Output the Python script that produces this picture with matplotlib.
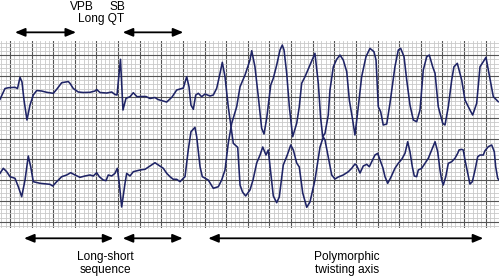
import matplotlib
matplotlib.use("Agg")
import matplotlib.pyplot as plt
from matplotlib.ticker import MultipleLocator

plt.rcParams['font.family'] = ['Liberation Sans', 'DejaVu Sans']

# ECG strip, time in seconds, amplitude in mV (both leads on one strip)
# trace starting in the upper lead (twists down to lower lead at ~2.05 s)
t1 = [-0.0925, -0.0463, -0.0157, 0.0463, 0.0694, 0.0925, 0.111, 0.1295, 0.157, 0.185,
      0.2155, 0.247, 0.293, 0.3395, 0.4006, 0.432, 0.478, 0.539, 0.555, 0.5856,
      0.632, 0.678, 0.740, 0.7863, 0.802, 0.8326, 0.8945, 0.941, 0.971, 0.990,
      1.022, 1.045, 1.073, 1.110, 1.1406, 1.175, 1.221, 1.258, 1.295, 1.341,
      1.369, 1.418, 1.4496, 1.499, 1.542, 1.588, 1.603, 1.6346, 1.656, 1.674,
      1.696, 1.718, 1.742, 1.7734, 1.804, 1.850, 1.8807, 1.912, 1.943, 1.964,
      1.989, 2.019, 2.044, 2.0657, 2.1064, 2.128, 2.151, 2.180, 2.220, 2.248,
      2.282, 2.313, 2.338, 2.368, 2.389, 2.412, 2.4357, 2.467, 2.491, 2.528,
      2.565, 2.597, 2.621, 2.652, 2.676, 2.708, 2.745, 2.775, 2.821, 2.868,
      2.898, 2.914, 2.944, 2.976, 3.006, 3.037, 3.083, 3.1295, 3.161, 3.191,
      3.207, 3.238, 3.268, 3.2997, 3.324, 3.376, 3.401, 3.423, 3.450, 3.469,
      3.494, 3.525, 3.561, 3.592, 3.6235, 3.654, 3.679, 3.700, 3.7216, 3.740,
      3.762, 3.777, 3.8085, 3.839, 3.8696, 3.901, 3.932, 3.9565, 3.978, 3.9935,
      4.008, 4.031, 4.0546, 4.086, 4.116, 4.1415, 4.154, 4.1785, 4.193, 4.209,
      4.234, 4.255, 4.277, 4.302, 4.3265, 4.348, 4.378, 4.394, 4.4246, 4.456,
      4.480, 4.493, 4.5115, 4.524]
v1 = [0.942, 1.202, 1.221, 1.231, 1.202, 1.471, 1.358, 0.925, 0.445, 0.805,
      1.046, 1.154, 1.142, 1.111, 1.087, 1.183, 1.341, 1.370, 1.327, 1.202,
      1.118, 1.106, 1.111, 1.142, 1.178, 1.106, 1.094, 1.118, 1.058, 1.046,
      1.904, 0.685, 0.966, 1.005, 1.101, 1.005, 1.010, 1.010, 0.962, 0.986,
      0.938, 0.901, 0.877, 0.998, 1.166, 1.202, 1.214, 1.486, 1.245, 0.805,
      0.702, 1.046, 1.087, 1.005, 1.070, 1.022, 1.046, 1.207, 1.567, 1.832,
      1.486, 0.764, 0.284, -0.115, -0.212, -1.118, -1.286, -1.382, -1.238, -0.998,
      -0.589, -0.397, -0.204, -0.397, -0.276, -0.829, -1.382, -1.543, -1.406, -0.637,
      -0.397, -0.156, -0.276, -0.589, -0.685, -1.310, -1.654, -1.526, -0.998, -0.204,
      0.036, -0.036, -0.445, -0.877, -0.974, -0.925, -0.877, -0.798, -0.716, -0.613,
      -0.649, -0.829, -0.661, -0.620, -0.678, -0.397, -0.356, -0.517, -0.709, -0.918,
      -1.077, -0.925, -0.716, -0.596, -0.500, -0.356, -0.077, -0.317, -0.678, -0.901,
      -0.918, -0.757, -0.716, -0.596, -0.476, -0.276, -0.077, -0.317, -0.757, -0.998,
      -1.118, -0.918, -0.596, -0.558, -0.476, -0.356, -0.276, -0.260, -0.276, -0.517,
      -0.837, -1.094, -1.038, -0.757, -0.438, -0.397, -0.397, -0.293, -0.197, -0.156,
      -0.317, -0.678, -0.957, -0.998]

# trace starting in the lower lead (twists up to upper lead at ~2.05 s)
t2 = [-0.0925, -0.062, -0.0305, 0.0, 0.0463, 0.0768, 0.108, 0.139, 0.169, 0.1915,
      0.2155, 0.2775, 0.3395, 0.370, 0.395, 0.432, 0.478, 0.5245, 0.5615, 0.601,
      0.6475, 0.694, 0.740, 0.7706, 0.802, 0.826, 0.863, 0.888, 0.909, 0.941,
      0.971, 0.9926, 1.011, 1.033, 1.064, 1.0796, 1.110, 1.1406, 1.2026, 1.249,
      1.295, 1.341, 1.372, 1.418, 1.4496, 1.480, 1.5106, 1.542, 1.573, 1.603,
      1.619, 1.649, 1.674, 1.711, 1.727, 1.758, 1.779, 1.834, 1.8807, 1.927,
      1.958, 1.989, 2.019, 2.051, 2.097, 2.128, 2.174, 2.220, 2.236, 2.266,
      2.297, 2.328, 2.350, 2.375, 2.412, 2.4357, 2.467, 2.4977, 2.519, 2.535,
      2.5597, 2.584, 2.615, 2.652, 2.676, 2.698, 2.729, 2.775, 2.821, 2.852,
      2.874, 2.893, 2.914, 2.944, 2.960, 2.991, 3.022, 3.053, 3.083, 3.115,
      3.139, 3.170, 3.191, 3.222, 3.253, 3.293, 3.330, 3.367, 3.386, 3.407,
      3.429, 3.453, 3.485, 3.515, 3.561, 3.592, 3.614, 3.645, 3.670, 3.700,
      3.731, 3.762, 3.793, 3.823, 3.855, 3.879, 3.910, 3.932, 3.962, 4.003,
      4.024, 4.0546, 4.086, 4.107, 4.138, 4.1785, 4.209, 4.255, 4.280, 4.317,
      4.348, 4.378, 4.403, 4.434, 4.471, 4.517]
v2 = [-0.837, -0.716, -0.798, -0.918, -0.957, -1.159, -1.399, -0.998, -0.421, -0.678,
      -1.038, -1.077, -1.094, -1.101, -1.142, -1.038, -0.918, -0.877, -0.822, -0.877,
      -0.933, -0.901, -0.877, -0.901, -0.822, -0.918, -0.998, -1.014, -0.877, -0.901,
      -0.837, -0.716, -1.077, -1.647, -1.077, -0.837, -0.901, -0.798, -0.757, -0.740,
      -0.661, -0.582, -0.637, -0.716, -0.837, -0.918, -0.981, -0.981, -1.038, -0.957,
      -0.918, -0.276, 0.163, 0.269, 0.043, -0.678, -0.918, -0.998, -1.197, -1.159,
      -0.998, -0.757, -0.115, 0.365, 0.764, 1.245, 1.526, 1.887, 2.111, 1.726,
      1.005, 0.245, 0.108, 0.493, 1.286, 1.447, 1.767, 2.127, 2.248, 2.127,
      1.567, 0.764, 0.043, 0.365, 0.764, 1.327, 1.486, 1.767, 2.048, 1.327,
      0.486, 0.043, 0.125, 0.565, 1.166, 1.726, 1.904, 2.007, 1.887, 1.606,
      0.925, 0.445, 0.084, 0.764, 1.486, 1.966, 2.168, 2.087, 1.887, 0.764,
      0.644, 0.325, 0.349, 0.846, 1.726, 2.127, 2.168, 1.966, 1.406, 0.805,
      0.445, 0.404, 0.685, 1.647, 1.966, 2.007, 1.726, 1.567, 0.764, 0.365,
      0.325, 0.764, 1.406, 1.726, 1.808, 1.406, 0.925, 0.685, 0.565, 0.846,
      1.726, 1.846, 1.952, 1.526, 1.005, 0.885]

# annotations: (label lines, time spans of arrows)
top_spans = [(0.046, 0.611), (1.043, 1.603)]
bottom_spans = [(0.130, 0.956), (1.043, 1.598), (1.834, 4.378)]

fig = plt.figure(figsize=(4.99, 2.76), dpi=100)
ax = fig.add_axes([0.0, 0.1728, 1.0, 0.6775])
ax.set_xlim(-0.0925, 4.5236)
ax.set_ylim(-2.159, 2.337)

ax.xaxis.set_major_locator(MultipleLocator(0.2))
ax.xaxis.set_minor_locator(MultipleLocator(0.04))
ax.yaxis.set_major_locator(MultipleLocator(0.5))
ax.yaxis.set_minor_locator(MultipleLocator(0.1))
ax.grid(which='minor', color='#c9c9c9', lw=0.6)
ax.grid(which='major', color='#555555', lw=0.8)
ax.set_axisbelow(True)
ax.tick_params(which='both', length=0, labelbottom=False, labelleft=False)
for s in ax.spines.values():
    s.set_visible(False)

ax.plot(t1, v1, color='#1f2466', lw=1.15, solid_joinstyle='round')
ax.plot(t2, v2, color='#1f2466', lw=1.15, solid_joinstyle='round')

arrow = dict(arrowstyle='<|-|>,head_length=0.6,head_width=0.25', color='black',
             lw=1.3, shrinkA=0, shrinkB=0)
coords = ('data', 'axes fraction')
for a, b in top_spans:
    ax.annotate('', xy=(b, 1.048), xytext=(a, 1.048), xycoords=coords,
                textcoords=coords, arrowprops=arrow, annotation_clip=False)
for a, b in bottom_spans:
    ax.annotate('', xy=(b, -0.0535), xytext=(a, -0.0535), xycoords=coords,
                textcoords=coords, arrowprops=arrow, annotation_clip=False)

fs = 8.6
txt = dict(xycoords=coords, ha='center', va='baseline', fontsize=fs,
           annotation_clip=False)
ax.annotate('VPB', (0.663, 1.167), **txt)
ax.annotate('SB', (0.990, 1.167), **txt)
ax.annotate('Long QT', (0.842, 1.102), **txt)
ax.annotate('Long-short', (0.886, -0.1695), **txt)
ax.annotate('sequence', (0.886, -0.237), **txt)
ax.annotate('Polymorphic', (3.120, -0.1695), **txt)
ax.annotate('twisting axis', (3.120, -0.237), **txt)

fig.savefig('out.png', dpi=100)
